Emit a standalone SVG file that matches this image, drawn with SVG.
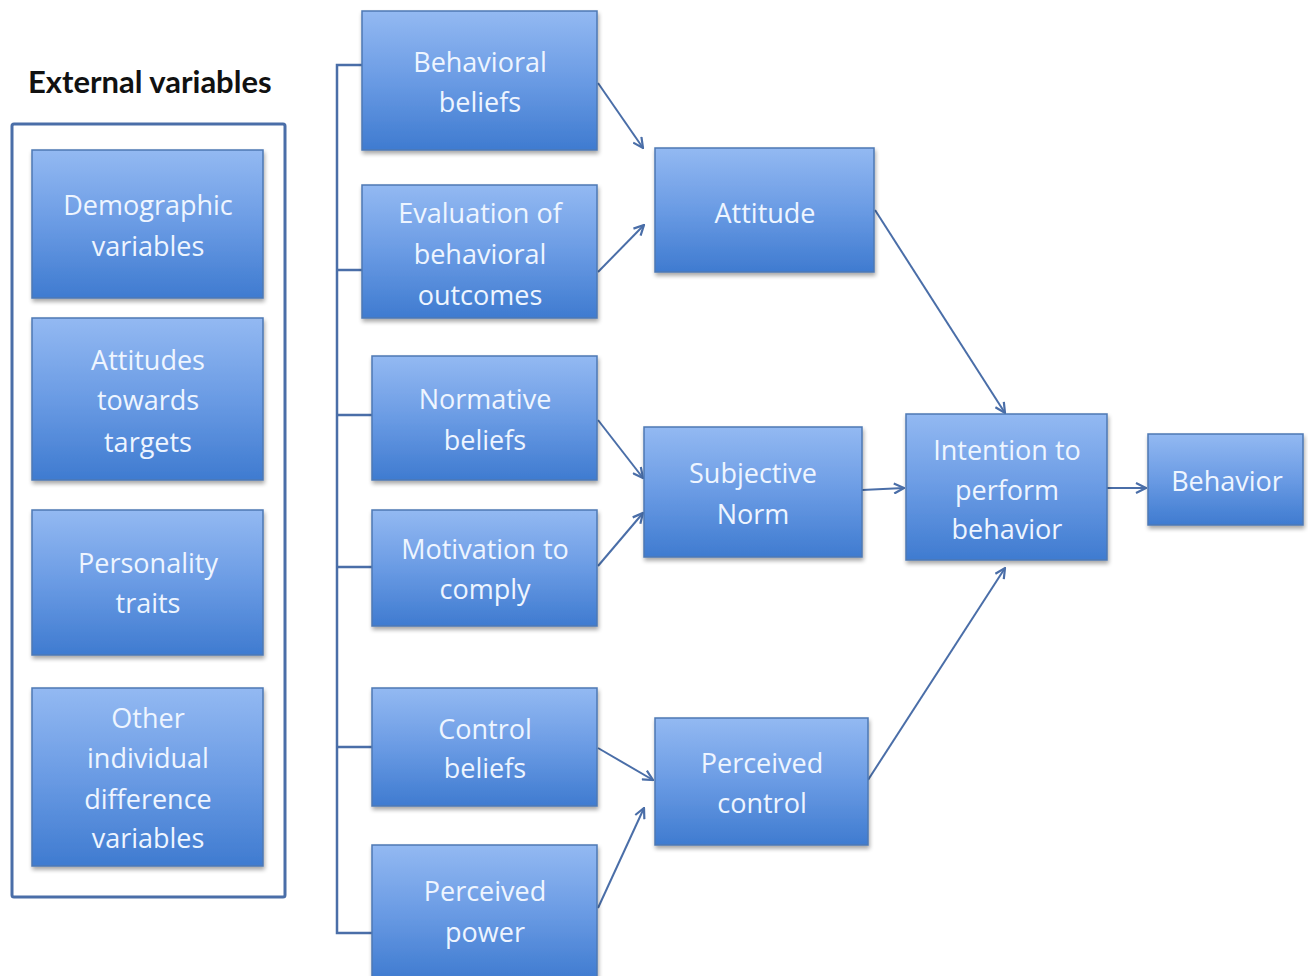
<svg xmlns="http://www.w3.org/2000/svg" width="1308" height="976" viewBox="0 0 1308 976">
<defs>
<linearGradient id="g" x1="0" y1="0" x2="0" y2="1">
<stop offset="0" stop-color="#93b9f2"/>
<stop offset="0.5" stop-color="#6a9be4"/>
<stop offset="1" stop-color="#3f7bd0"/>
</linearGradient>
<filter id="sh" x="-10%" y="-10%" width="125%" height="130%">
<feGaussianBlur in="SourceAlpha" stdDeviation="2"/>
<feOffset dx="1" dy="3"/>
<feComponentTransfer><feFuncA type="linear" slope="0.35"/></feComponentTransfer>
<feMerge><feMergeNode/><feMergeNode in="SourceGraphic"/></feMerge>
</filter>
<marker id="ah" viewBox="0 0 12 12" refX="11" refY="6" markerWidth="12" markerHeight="12" markerUnits="userSpaceOnUse" orient="auto">
<path d="M1,1 L11,6 L1,11" fill="none" stroke="#4a6ea8" stroke-width="2.2"/>
</marker>
</defs>
<style>
.box{fill:url(#g);stroke:#4d78b4;stroke-width:1.5;filter:url(#sh)}
.t{font-family:"Open Sans",Lato,"Liberation Sans",sans-serif;font-size:27px;fill:#eef5ff;text-anchor:middle}
.c{fill:none;stroke:#4a6ea8;stroke-width:2.5}
.a{fill:none;stroke:#4a6ea8;stroke-width:2;marker-end:url(#ah)}
.title{font-family:Lato,"Open Sans","Liberation Sans",sans-serif;font-size:31px;font-weight:bold;fill:#111}
</style>
<rect width="1308" height="976" fill="#ffffff"/>
<text class="title" x="28" y="93">External variables</text>
<rect x="12" y="124" width="273" height="773" fill="none" stroke="#4a6ea8" stroke-width="3" rx="2"/>

<g id="connectors">
<path class="c" d="M362,65 H337 V933 H372"/>
<path class="c" d="M337,270 H362"/>
<path class="c" d="M337,415 H372"/>
<path class="c" d="M337,567 H372"/>
<path class="c" d="M337,747 H372"/>
<path class="a" d="M598,83 L643,148"/>
<path class="a" d="M598,272 L644,225"/>
<path class="a" d="M598,420 L643,478"/>
<path class="a" d="M598,566 L643,513"/>
<path class="a" d="M598,748 L653,780"/>
<path class="a" d="M598,908 L644,808"/>
<path class="a" d="M875,210 L1005,413"/>
<path class="a" d="M862,490 L904,488"/>
<path class="a" d="M868,780 L1005,568"/>
<path class="a" d="M1107,488 L1146,488"/>
</g>

<g id="demographic"><rect class="box" x="32" y="150" width="231" height="148"/>
<text class="t" x="148" y="215">Demographic</text><text class="t" x="148" y="256">variables</text></g>
<g id="attitudes-targets"><rect class="box" x="32" y="318" width="231" height="162"/>
<text class="t" x="148" y="370">Attitudes</text><text class="t" x="148" y="410">towards</text><text class="t" x="148" y="452">targets</text></g>
<g id="personality"><rect class="box" x="32" y="510" width="231" height="145"/>
<text class="t" x="148" y="573">Personality</text><text class="t" x="148" y="613">traits</text></g>
<g id="other"><rect class="box" x="32" y="688" width="231" height="178"/>
<text class="t" x="148" y="728">Other</text><text class="t" x="148" y="768">individual</text><text class="t" x="148" y="809">difference</text><text class="t" x="148" y="848">variables</text></g>

<g id="behavioral-beliefs"><rect class="box" x="362" y="11" width="235" height="139"/>
<text class="t" x="480" y="72">Behavioral</text><text class="t" x="480" y="112">beliefs</text></g>
<g id="evaluation"><rect class="box" x="362" y="185" width="235" height="133"/>
<text class="t" x="480" y="223">Evaluation of</text><text class="t" x="480" y="264">behavioral</text><text class="t" x="480" y="305">outcomes</text></g>
<g id="normative-beliefs"><rect class="box" x="372" y="356" width="225" height="124"/>
<text class="t" x="485" y="409">Normative</text><text class="t" x="485" y="450">beliefs</text></g>
<g id="motivation"><rect class="box" x="372" y="510" width="225" height="116"/>
<text class="t" x="485" y="559">Motivation to</text><text class="t" x="485" y="599">comply</text></g>
<g id="control-beliefs"><rect class="box" x="372" y="688" width="225" height="118"/>
<text class="t" x="485" y="739">Control</text><text class="t" x="485" y="778">beliefs</text></g>
<g id="perceived-power"><rect class="box" x="372" y="845" width="225" height="135"/>
<text class="t" x="485" y="901">Perceived</text><text class="t" x="485" y="942">power</text></g>

<g id="attitude"><rect class="box" x="655" y="148" width="219" height="124"/>
<text class="t" x="765" y="223">Attitude</text></g>
<g id="subjective-norm"><rect class="box" x="644" y="427" width="218" height="130"/>
<text class="t" x="753" y="483">Subjective</text><text class="t" x="753" y="524">Norm</text></g>
<g id="perceived-control"><rect class="box" x="655" y="718" width="213" height="127"/>
<text class="t" x="762" y="773">Perceived</text><text class="t" x="762" y="813">control</text></g>
<g id="intention"><rect class="box" x="906" y="414" width="201" height="146"/>
<text class="t" x="1007" y="460">Intention to</text><text class="t" x="1007" y="500">perform</text><text class="t" x="1007" y="539">behavior</text></g>
<g id="behavior"><rect class="box" x="1148" y="434" width="155" height="91"/>
<text class="t" x="1227" y="491">Behavior</text></g>
</svg>
